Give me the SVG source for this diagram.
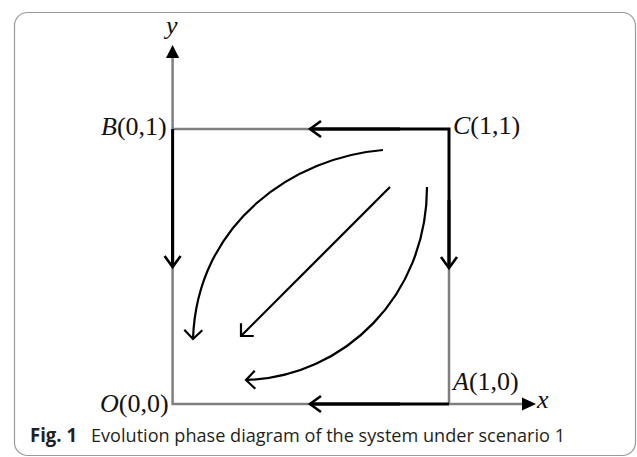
<svg xmlns="http://www.w3.org/2000/svg" width="637" height="457" viewBox="0 0 637 457">
<style>
.gray{stroke:#7f7f7f;stroke-width:2.5;fill:none}
.blk{stroke:#000;stroke-width:3;fill:none}
.crv{stroke:#000;stroke-width:2.2;fill:none;marker-end:url(#chev)}
.lbl{font-family:"Liberation Serif",serif;font-style:italic;font-size:26px;fill:#111}
.num{font-style:normal}
.cap{font-family:"Open Sans","Noto Sans",sans-serif;font-size:19px;fill:#231f20}
</style>
<defs>
<marker id="chev" markerUnits="userSpaceOnUse" orient="auto" markerWidth="30" markerHeight="30" viewBox="-15 -15 30 30" refX="0" refY="0" overflow="visible">
<path d="M-9,-9 L0,0 L-9,9" fill="none" stroke="#000" stroke-width="2.2"/>
</marker>
<marker id="edge" markerUnits="userSpaceOnUse" orient="auto" markerWidth="30" markerHeight="30" viewBox="-15 -15 30 30" refX="0" refY="0" overflow="visible">
<path d="M-11,-8 L0,0 L-11,8" fill="none" stroke="#000" stroke-width="2.6"/>
</marker>
</defs>
<rect x="0" y="0" width="637" height="457" fill="#fff"/>
<rect x="14.5" y="12.5" width="621" height="443" rx="13" fill="none" stroke="#9a9a9a" stroke-width="1.2"/>
<g id="axes">
<path class="gray" d="M172.6,129 V55"/>
<polygon points="172.6,45 166,58 179.2,58" fill="#000"/>
<path class="gray" d="M449,404 H524"/>
<polygon points="536,404 522,397.5 522,410.5" fill="#000"/>
</g>
<g id="connectors">
<path class="gray" d="M310,129 H172.6"/>
<path class="blk" d="M310,129 H449 V268"/>
<path class="blk" d="M172.6,129 V267"/>
<path class="gray" d="M172.6,267 V404 H310"/>
<path class="gray" d="M449,268 V404"/>
<path class="blk" d="M449,404 H310"/>
<path class="blk" d="M400,129 L310,129" stroke-width="0" style="marker-end:url(#edge)"/>
<path class="blk" d="M172.6,200 L172.6,267" stroke-width="0" style="marker-end:url(#edge)"/>
<path class="blk" d="M449,200 L449,268" stroke-width="0" style="marker-end:url(#edge)"/>
<path class="blk" d="M400,404 L310,404" stroke-width="0" style="marker-end:url(#edge)"/>
<path class="crv" d="M383,150 C295,157 197,222 193,339"/>
<path class="crv" d="M390,187 L241,336"/>
<path class="crv" d="M427,187 C427,295 345,377 246,380"/>
</g>
<g id="labels">
<text class="lbl" x="166" y="34">y</text>
<text class="lbl" x="537" y="408">x</text>
<g id="node-B"><text class="lbl" x="101" y="135">B<tspan class="num">(0,1)</tspan></text></g>
<g id="node-C"><text class="lbl" x="453" y="134">C<tspan class="num">(1,1)</tspan></text></g>
<g id="node-O"><text class="lbl" x="100" y="412">O<tspan class="num">(0,0)</tspan></text></g>
<g id="node-A"><text class="lbl" x="453" y="390">A<tspan class="num">(1,0)</tspan></text></g>
</g>
<g id="caption">
<text class="cap" x="30" y="442" font-weight="bold" textLength="47" lengthAdjust="spacingAndGlyphs">Fig. 1</text>
<text class="cap" x="91" y="442" textLength="474" lengthAdjust="spacingAndGlyphs">Evolution phase diagram of the system under scenario 1</text>
</g>
</svg>
